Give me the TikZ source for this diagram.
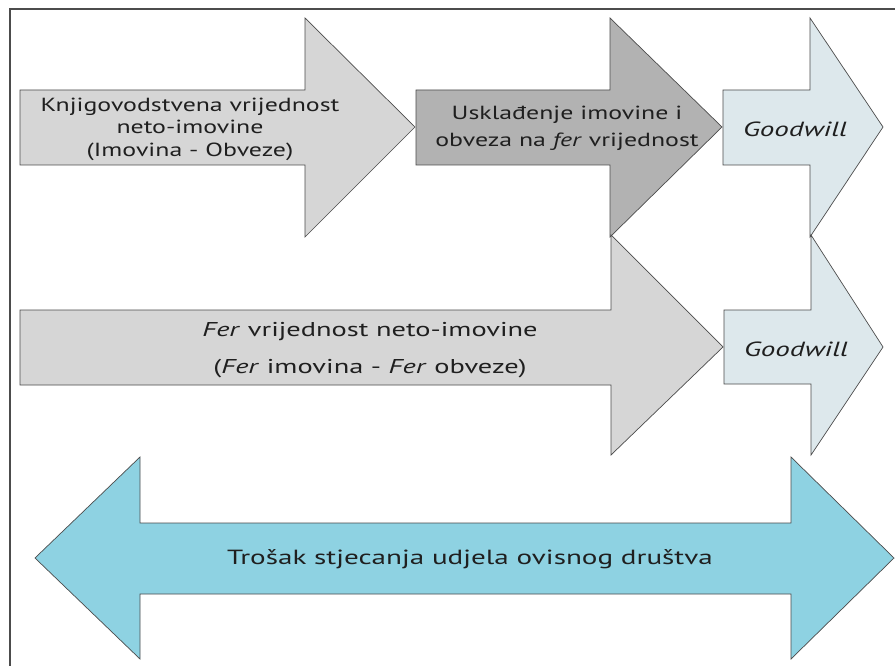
\documentclass[tikz,border=0pt]{standalone}
\usepackage{fontspec}
\setmainfont{PT Sans}
\newfontfamily\wfont[FakeStretch=1.36]{PT Sans}
\newfontfamily\gfont[FakeStretch=1.42]{PT Sans}
\begin{document}
\begin{tikzpicture}[x=1pt,y=-1pt,
  blockarrow/.style={draw=black!70,line width=0.7pt,line join=miter},
  lbl/.style={align=center,font=\wfont\fontsize{19}{22.5}\selectfont,inner sep=0pt,text=black!88}]
\definecolor{greyA}{HTML}{D6D6D6}
\definecolor{greyB}{HTML}{B2B2B2}
\definecolor{goodw}{HTML}{DDE8EC}
\definecolor{cyanA}{HTML}{8ED2E2}
\useasboundingbox (0,0) rectangle (895,666);
\fill[white] (0,0) rectangle (895,666);
% frame
\draw[black!70,line width=1.2pt] (10,666) -- (10,9) -- (895,9);
% row 1
\draw[blockarrow,fill=greyA] (20,90) -- (305,90) -- (305,18) -- (415,127) -- (305,237) -- (305,165) -- (20,165) -- cycle;
\draw[blockarrow,fill=greyB] (416,90) -- (610,90) -- (610,18) -- (722,127) -- (610,237) -- (610,165) -- (416,165) -- cycle;
\draw[blockarrow,fill=goodw] (723,90) -- (810,90) -- (810,18) -- (883,127) -- (810,237) -- (810,165) -- (723,165) -- cycle;
% row 2
\draw[blockarrow,fill=greyA] (20,310) -- (611,310) -- (611,235) -- (723,347) -- (611,455) -- (611,385) -- (20,385) -- cycle;
\draw[blockarrow,fill=goodw] (724,310) -- (811,310) -- (811,235) -- (883,347) -- (811,455) -- (811,384) -- (724,384) -- cycle;
% double arrow
\draw[blockarrow,fill=cyanA] (35,558) -- (140,457) -- (140,523) -- (791,523) -- (791,457) -- (894,558) -- (791,659) -- (791,594) -- (140,594) -- (140,659) -- cycle;
% labels
\node[lbl] (knjig) at (190,129) {Knjigovodstvena vrijednost\\neto-imovine\\(Imovina - Obveze)};
\node[lbl,font=\wfont\fontsize{19}{27}\selectfont] (uskl) at (567,128) {Usklađenje imovine i\\obveza na \textit{fer} vrijednost};
\node[lbl,font=\gfont\fontsize{20.5}{24}\selectfont] (gw1) at (795,129) {\textit{Goodwill}};
\node[lbl,font=\gfont\fontsize{20}{37}\selectfont] (fer) at (370,350) {\textit{Fer} vrijednost neto-imovine\\(\textit{Fer} imovina - \textit{Fer} obveze)};
\node[lbl,font=\gfont\fontsize{20.5}{24}\selectfont] (gw2) at (796,349) {\textit{Goodwill}};
\node[lbl,font=\gfont\fontsize{20.5}{24}\selectfont] (trosak) at (470,559) {Trošak stjecanja udjela ovisnog društva};
\end{tikzpicture}
\end{document}
